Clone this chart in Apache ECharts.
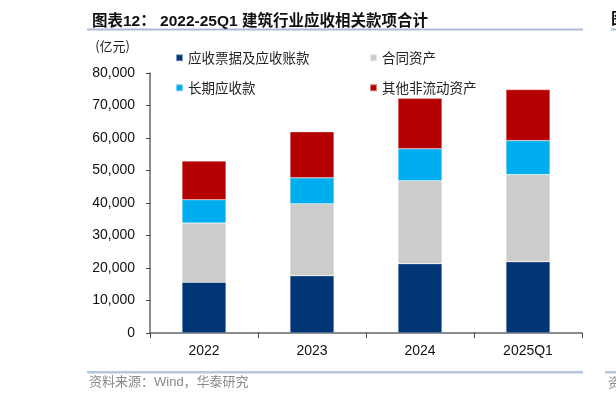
<!DOCTYPE html>
<html>
<head>
<meta charset="utf-8">
<script src="https://cdn.jsdelivr.net/npm/echarts@6/dist/echarts.min.js"></script>
<style>
  html, body { margin: 0; padding: 0; background: #fff; }
  #chart { width: 616px; height: 403px; }
</style>
</head>
<body>
<div id="chart"></div>
<script>
// 2022-25Q1 建筑行业应收相关款项合计（亿元）
const categories = ['2022', '2023', '2024', '2025Q1']
const receivables = [15600, 17600, 21300, 21900]   // 应收票据及应收账款
const contractAssets = [18250, 22150, 25550, 26850] // 合同资产
const longTermRecv = [7150, 8000, 9850, 10450]      // 长期应收款
const otherNonCurrent = [11900, 14150, 15500, 15700] // 其他非流动资产
const seriesNames = ['应收票据及应收账款', '合同资产', '长期应收款', '其他非流动资产']
const colors = ['#003576', '#CCCCCC', '#00AEEF', '#B40000']

const cjk = '"Noto Sans CJK SC", sans-serif'
const latin = '"Liberation Sans", Arial, "Noto Sans CJK SC", sans-serif'

function legendAt(name, left, top) {
  return {
    data: [name],
    left: left,
    top: top,
    itemWidth: 7,
    itemHeight: 7,
    icon: 'rect',
    itemGap: 4,
    selectedMode: false,
    textStyle: { fontFamily: cjk, fontSize: 13.5, color: '#222', padding: [0, 0, 0, 0] }
  }
}

function bar(name, data, color) {
  return {
    name: name,
    type: 'bar',
    stack: 'total',
    barWidth: 44,
    data: data,
    itemStyle: { color: color, borderColor: 'rgba(255,255,255,0.5)', borderWidth: 0.5 }
  }
}

const chart = echarts.init(document.getElementById('chart'), null, { renderer: 'canvas' })

chart.setOption({
  animation: false,
  title: {
    text: '图表12： 2022-25Q1 建筑行业应收相关款项合计',
    left: 87,
    top: 9,
    textStyle: { fontFamily: latin, fontSize: 15.5, fontWeight: 'bold', color: '#111' }
  },
  legend: [
    legendAt(seriesNames[0], 170, 46),
    legendAt(seriesNames[1], 364, 46),
    legendAt(seriesNames[2], 170, 76),
    legendAt(seriesNames[3], 364, 76)
  ],
  grid: { left: 150, right: 34, top: 73, bottom: 70 },
  xAxis: {
    type: 'category',
    data: categories,
    axisLine: { lineStyle: { color: '#666', width: 1.5 } },
    axisTick: { show: true, length: 5, lineStyle: { color: '#444' } },
    axisLabel: { fontFamily: latin, fontSize: 14, color: '#111', margin: 11 }
  },
  yAxis: {
    type: 'value',
    min: 0,
    max: 80000,
    interval: 10000,
    name: '(亿元)',
    nameLocation: 'end',
    nameGap: 20,
    nameTextStyle: { fontFamily: cjk, fontSize: 13, color: '#222', align: 'right', padding: [0, 20, 0, 0] },
    splitLine: { show: false },
    axisLine: { show: true, lineStyle: { color: '#666', width: 1.5 } },
    axisTick: { show: true, length: 4, lineStyle: { color: '#444' } },
    axisLabel: {
      fontFamily: latin,
      fontSize: 14,
      color: '#111',
      margin: 15,
      formatter: v => v.toLocaleString('en-US')
    }
  },
  series: [
    bar(seriesNames[0], receivables, colors[0]),
    bar(seriesNames[1], contractAssets, colors[1]),
    bar(seriesNames[2], longTermRecv, colors[2]),
    bar(seriesNames[3], otherNonCurrent, colors[3])
  ],
  graphic: [
    { type: 'rect', shape: { x: 87, y: 28.5, width: 496, height: 2 }, style: { fill: '#A9BCD3' } },
    { type: 'rect', shape: { x: 87, y: 371, width: 496, height: 2.5 }, style: { fill: '#B7C7DA' } },
    {
      type: 'text', left: 89, top: 376,
      style: { text: '资料来源：Wind，华泰研究', fontFamily: latin, fontSize: 13, fill: '#8a8a8a' }
    },
    // 右侧相邻图表的残边
    { type: 'rect', shape: { x: 611, y: 28.5, width: 10, height: 2 }, style: { fill: '#A9BCD3' } },
    { type: 'rect', shape: { x: 605, y: 371, width: 15, height: 2.5 }, style: { fill: '#B7C7DA' } },
    {
      type: 'text', left: 611, top: 10,
      style: { text: '图', fontFamily: cjk, fontSize: 16, fontWeight: 'bold', fill: '#111' }
    },
    {
      type: 'text', left: 608, top: 376,
      style: { text: '资', fontFamily: cjk, fontSize: 13, fill: '#8a8a8a' }
    }
  ]
})
</script>
</body>
</html>
